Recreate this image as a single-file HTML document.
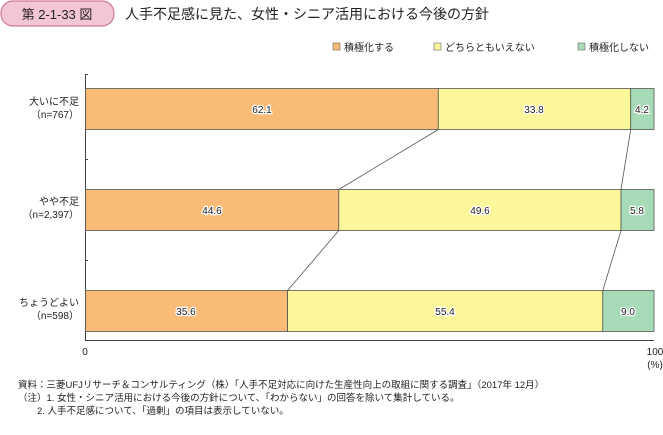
<!DOCTYPE html>
<html><head><meta charset="utf-8"><style>
body{margin:0;width:663px;height:430px;background:#fff;overflow:hidden;font-family:"Liberation Sans","Noto Sans CJK JP",sans-serif;}
</style></head><body>
<svg width="663" height="430" xmlns="http://www.w3.org/2000/svg" font-family="Liberation Sans, Noto Sans CJK JP, sans-serif">
<rect x="1" y="1" width="113" height="25" rx="12" fill="#f3c6d3" stroke="#d07a97" stroke-width="1.2"/>
<text x="57" y="19" font-size="13" text-anchor="middle" fill="#222">第 2-1-33 図</text>
<text x="125" y="19" font-size="14" fill="#222">人手不足感に見た、女性・シニア活用における今後の方針</text>
<g font-size="10" fill="#222">
<rect x="333" y="43" width="7" height="7" fill="#f9bb76" stroke="#666" stroke-width="0.6"/><text x="344" y="51">積極化する</text>
<rect x="434" y="43" width="7" height="7" fill="#fdf79c" stroke="#666" stroke-width="0.6"/><text x="445" y="51">どちらともいえない</text>
<rect x="578" y="43" width="7" height="7" fill="#a7dab7" stroke="#666" stroke-width="0.6"/><text x="589" y="51">積極化しない</text>
</g>
<g stroke="#444" stroke-width="1" fill="none">
<line x1="85.5" y1="74" x2="85.5" y2="340"/><line x1="85" y1="74.5" x2="88" y2="74.5"/>
<line x1="85" y1="159.5" x2="88" y2="159.5"/><line x1="85" y1="260.5" x2="88" y2="260.5"/>
<line x1="85" y1="340.5" x2="654" y2="340.5"/>
</g>
<g stroke="#555" stroke-width="0.8">
<rect x="85.5" y="88.5" width="352.8" height="41" fill="#f9bb76"/>
<rect x="438.3" y="88.5" width="192.4" height="41" fill="#fdf79c"/>
<rect x="630.7" y="88.5" width="23.3" height="41" fill="#a7dab7"/>
<rect x="85.5" y="189.5" width="253.3" height="41" fill="#f9bb76"/>
<rect x="338.8" y="189.5" width="282.2" height="41" fill="#fdf79c"/>
<rect x="621" y="189.5" width="33" height="41" fill="#a7dab7"/>
<rect x="85.5" y="290.5" width="202.1" height="41" fill="#f9bb76"/>
<rect x="287.6" y="290.5" width="315.2" height="41" fill="#fdf79c"/>
<rect x="602.8" y="290.5" width="51.2" height="41" fill="#a7dab7"/>
<line x1="438.3" y1="129.5" x2="338.8" y2="189.5"/><line x1="630.7" y1="129.5" x2="621" y2="189.5"/>
<line x1="338.8" y1="230.5" x2="287.6" y2="290.5"/><line x1="621" y1="230.5" x2="602.8" y2="290.5"/>
</g>
<g font-size="10" fill="#222" text-anchor="middle" stroke="#fff" stroke-width="2.5" paint-order="stroke">
<text x="262" y="113">62.1</text><text x="534" y="113">33.8</text><text x="642" y="113">4.2</text>
<text x="212" y="214">44.6</text><text x="480" y="214">49.6</text><text x="637" y="214">5.8</text>
<text x="186" y="315">35.6</text><text x="445" y="315">55.4</text><text x="628" y="315">9.0</text>
</g>
<g font-size="10" fill="#222" text-anchor="end">
<text x="79" y="105">大いに不足</text><text x="79" y="118">（n=767）</text>
<text x="79" y="205">やや不足</text><text x="79" y="218">（n=2,397）</text>
<text x="79" y="306">ちょうどよい</text><text x="79" y="319">（n=598）</text>
</g>
<g font-size="10" fill="#222">
<text x="85" y="355" text-anchor="middle">0</text>
<text x="655" y="355" text-anchor="middle">100</text>
<text x="655" y="368" text-anchor="middle">(%)</text>
<text x="18" y="388" font-size="9.5">資料：三菱UFJリサーチ＆コンサルティング（株）「人手不足対応に向けた生産性向上の取組に関する調査」（2017年 12月）</text>
<text x="18" y="401" font-size="9.5">（注）1. 女性・シニア活用における今後の方針について、「わからない」の回答を除いて集計している。</text>
<text x="37" y="414" font-size="9.5">2. 人手不足感について、「過剰」の項目は表示していない。</text>
</g>
</svg>
</body></html>
